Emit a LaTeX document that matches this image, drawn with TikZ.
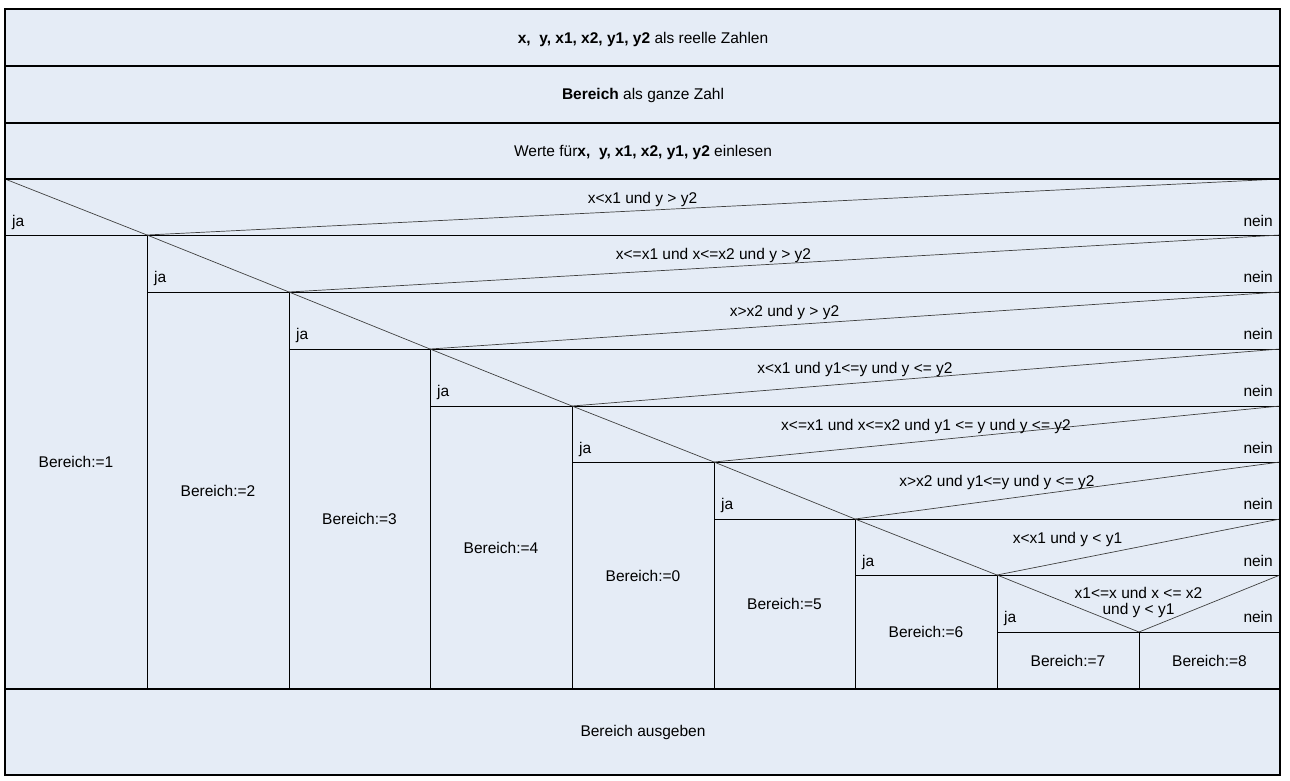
\documentclass[tikz,border=0pt]{standalone}
\usepackage{fontspec}
\setmainfont{Liberation Sans}
\definecolor{nsfill}{RGB}{229,236,246}
\begin{document}
\begin{tikzpicture}[x=1pt,y=-1pt,
  heavy/.style={line width=2.4pt},
  light/.style={line width=1pt},
  diag/.style={line width=0.7pt, draw=black!75},
  lbl/.style={font=\fontsize{15.5}{18}\selectfont, inner sep=0pt}]
\useasboundingbox (0,0) rectangle (1290,780);
\coordinate (TL) at (5,9);
\coordinate (BR) at (1280,775);
\fill[nsfill] (TL) rectangle (BR);
% decision grid points
\foreach \i/\x/\y in {0/5/179,1/147/235,2/289/292,3/430/349,4/572/406,5/714/462,6/855/519,7/997/575,8/1139/632}{
  \coordinate (d\i) at (\x,\y);
  \coordinate (r\i) at (1280,\y);
  \coordinate (b\i) at (\x,689);
}
\coordinate (h1) at (5,66);
\coordinate (h2) at (5,123);
\coordinate (bl) at (5,689);
\coordinate (br) at (1280,689);
% decisions
\foreach \k/\n in {0/1,1/2,2/3,3/4,4/5,5/6,6/7,7/8}{
  \draw[diag] (d\k) -- (d\n) -- (r\k);
  \draw[light] (d\k |- d\n) -- (r\n);
  \draw[light] (d\n) -- (b\n);
}
% heavy lines
\draw[heavy] (h1) -- (h1 -| BR);
\draw[heavy] (h2) -- (h2 -| BR);
\draw[heavy] (d0) -- (r0);
\draw[heavy] (bl) -- (br);
\draw[heavy] (TL) rectangle (BR);
% header texts
\node[lbl, anchor=base] (t1) at (643,43) {\textbf{x,\ \ y, x1, x2, y1, y2} als reelle Zahlen};
\node[lbl, anchor=base] (t2) at (643,99) {\textbf{Bereich} als ganze Zahl};
\node[lbl, anchor=base] (t3) at (643,156) {Werte für\textbf{x,\ \ y, x1, x2, y1, y2} einlesen};
\node[lbl, anchor=base] (t4) at (643,736) {Bereich ausgeben};
% conditions
\foreach \k/\t in {0/{x<x1 und y > y2},1/{x<=x1 und x<=x2 und y > y2},2/{x>x2 und y > y2},3/{x<x1 und y1<=y und y <= y2},4/{x<=x1 und x<=x2 und y1 <= y und y <= y2},5/{x>x2 und y1<=y und y <= y2},6/{x<x1 und y < y1}}{
  \path (d\k) -- (r\k) node[lbl, anchor=base, midway, yshift=-24pt] (c\k) {\t};
}
\path (d7) -- (r7) node[lbl, anchor=base, midway, yshift=-23pt] (c7a) {x1<=x und x <= x2};
\path (d7) -- (r7) node[lbl, anchor=base, midway, yshift=-39pt] (c7b) {und y < y1};
% ja / nein
\foreach \k in {0,...,7}{
  \node[lbl, anchor=base west] (ja\k) at ([shift={(7,47)}]d\k) {ja};
  \node[lbl, anchor=base east] (nein\k) at ([shift={(-7,47)}]r\k) {nein};
}
% assignments
\foreach \k/\n/\v in {0/1/1,1/2/2,2/3/3,3/4/4,4/5/0,5/6/5,6/7/6,7/8/7}{
  \path (d\k |- d\n) -- (b\n) node[lbl, midway] (a\k) {Bereich:=\v};
}
\path (d8) -- (br) node[lbl, midway] (a8) {Bereich:=8};
\end{tikzpicture}
\end{document}
